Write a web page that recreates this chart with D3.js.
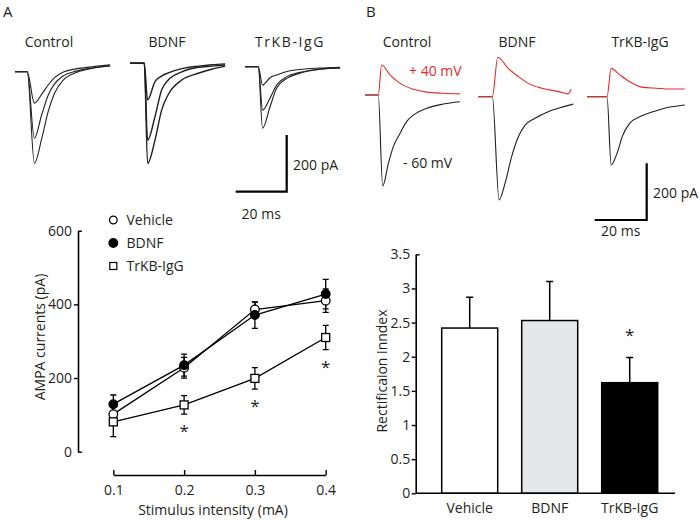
<!DOCTYPE html>
<html>
<head>
<meta charset="utf-8">
<script src="https://cdn.jsdelivr.net/npm/d3@7/dist/d3.min.js"></script>
<style>
  html, body { margin: 0; padding: 0; background: #fff; }
  svg { display: block; }
  text { font-family: "Open Sans", "Noto Sans", sans-serif; fill: #231f20; }
</style>
</head>
<body>
<svg id="fig" width="700" height="521"></svg>
<script>
// ---------------- DATA ----------------
// Panel A, example AMPA traces (time in ms, current in pA relative to baseline)
const aCtrlTime   = [0, 4.8, 7.6, 10.5, 13, 15.5, 19, 24, 31, 37.3];
const aCtrlSmall  = [0, 0, -111, -79, -47, -21, -1, 10, 18, 24];
const aCtrlMid    = [0, 0, -235, -151, -83, -43, -14, 2, 14, 21];
const aCtrlLarge  = [0, 0, -323, -235, -141, -76, -29, -3, 13, 20];

const aBdnfTime   = [0, 5.6, 6.9, 9.8, 12.4, 15, 20.3, 26.8, 32, 37.3];
const aBdnfSmall  = [0, 0, -129, -65, -45, -34, -19, -10, -5, -2];
const aBdnfMid    = [0, 0, -271, -188, -94, -59, -30, -14, -10, -6];
const aBdnfLarge  = [0, 0, -353, -271, -165, -110, -59, -35, -21, -10];

const aTrkbTime   = [0, 5.2, 6.9, 9.8, 12.4, 16.4, 21.6, 29.4, 37.3];
const aTrkbSmall  = [0, 0, -65, -39, -29, -17, -10, -5, -2];
const aTrkbMid    = [0, 0, -153, -111, -65, -35, -20, -8, -4];
const aTrkbLarge  = [0, 0, -217, -142, -76, -41, -23, -9, -4];

// Panel B, traces at +40 mV (red) and -60 mV (black)
const bCtrlRedTime   = [0, 5.1, 6.4, 9.6, 13.5, 18.6, 23.7, 30.1, 36.5];
const bCtrlRed       = [0, 0, 106, 71, 41, 20, 10, 6, 4];
const bCtrlBlackTime = [0, 5.1, 6.8, 9.0, 10.9, 13.5, 16.0, 18.6, 23.7, 30.1, 36.5];
const bCtrlBlack     = [0, 0, -321, -241, -182, -135, -94, -71, -47, -32, -24];

const bBdnfRedTime   = [0, 5.4, 7.5, 11.5, 15.4, 19.2, 24.4, 30.8, 34.6, 35.7];
const bBdnfRed       = [0, 0, 139, 100, 71, 47, 30, 18, 10, 26];
const bBdnfBlackTime = [0, 5.4, 8.0, 10.3, 12.8, 15.4, 18.0, 21.8, 26.9, 32.1, 36.5];
const bBdnfBlack     = [0, 0, -364, -305, -212, -141, -100, -76, -53, -37, -26];

const bTrkbRedTime   = [0, 7.7, 9.3, 12.6, 16.4, 21.5, 26.7, 31.8, 37.6];
const bTrkbRed       = [0, 0, 100, 77, 53, 33, 30, 27, 27];
const bTrkbBlackTime = [0, 7.7, 9.3, 11.3, 13.8, 16.4, 20.3, 25.4, 30.5, 37.6];
const bTrkbBlack     = [0, 0, -241, -206, -135, -94, -71, -53, -39, -29];

// Panel A, line chart
const stimulus      = [0.1, 0.2, 0.3, 0.4];
const vehicleMean   = [102, 228, 386, 410];
const vehicleErr    = [20, 28, 20, 32];
const bdncMean      = [129, 235, 371, 428];
const bdnfErr       = [25, 30, 36, 40];
const trkbMean      = [81, 127, 199, 310];
const trkbErr       = [40, 25, 29, 33];
const aYTicks       = [0, 200, 400, 600];
const sigStimulus   = [0.2, 0.3, 0.4];

// Panel B, bar chart
const groups        = ["Vehicle", "BDNF", "TrKB-IgG"];
const rectMean      = [2.42, 2.53, 1.62];
const rectErr       = [0.45, 0.57, 0.37];
const bYTicks       = [0, 0.5, 1, 1.5, 2, 2.5, 3, 3.5];
const sigGroups     = ["TrKB-IgG"];

// ---------------- DRAW ----------------
const svg = d3.select("#fig");
const RED = "#e42a2c";
const INK = "#231f20";

function txt(x, y, s, opts = {}) {
  const t = svg.append("text").attr("x", x).attr("y", y).text(s)
    .attr("font-size", opts.size || 14)
    .attr("text-anchor", opts.anchor || "start");
  if (opts.fill) t.style("fill", opts.fill);
  if (opts.ls) t.attr("letter-spacing", opts.ls);
  if (opts.weight) t.attr("font-weight", opts.weight);
  return t;
}

// Panel letters
txt(3, 17, "A", { size: 15 });
txt(366, 17, "B", { size: 15 });

// Trace helper
function traceScales(x0, baseY, pxPerMs) {
  return {
    x: d3.scaleLinear().domain([0, 20]).range([x0, x0 + 20 * pxPerMs]),
    y: d3.scaleLinear().domain([0, -200]).range([baseY, baseY + 56.7])
  };
}
function drawTrace(sc, times, vals, color, w) {
  const line = d3.line().x((d, i) => sc.x(times[i])).y(d => sc.y(d)).curve(d3.curveMonotoneX);
  svg.append("path").attr("d", line(vals)).attr("fill", "none")
    .attr("stroke", color).attr("stroke-width", w || 1.1).attr("stroke-linejoin", "round");
}

// --- Panel A traces ---
const sAc = traceScales(15, 71.7, 2.55);
[aCtrlSmall, aCtrlMid, aCtrlLarge].forEach(v => drawTrace(sAc, aCtrlTime, v, INK));
const sAb = traceScales(130, 63.3, 2.55);
[aBdnfSmall, aBdnfMid, aBdnfLarge].forEach(v => drawTrace(sAb, aBdnfTime, v, INK, 1.4));
const sAt = traceScales(245, 66.7, 2.55);
[aTrkbSmall, aTrkbMid, aTrkbLarge].forEach(v => drawTrace(sAt, aTrkbTime, v, INK));

txt(49, 47, "Control", { anchor: "middle" });
txt(167, 47, "BDNF", { anchor: "middle" });
txt(290, 47, "TrKB-IgG", { anchor: "middle", ls: 1.6 });

// Scale bar
function scaleBar(sc, xRight, yBottom, pALabelX, pALabelY, msLabelY) {
  const w = sc.x(20) - sc.x(0), h = sc.y(-200) - sc.y(0);
  svg.append("path")
    .attr("d", `M${xRight - w},${yBottom}H${xRight}V${yBottom - h}`)
    .attr("fill", "none").attr("stroke", "#000").attr("stroke-width", 2.2);
  txt(pALabelX, pALabelY, "200 pA");
  txt(xRight - w / 2, msLabelY, "20 ms", { anchor: "middle" });
}
scaleBar(sAc, 286.7, 191.7, 293, 170, 219);

// --- Panel B traces ---
const sBc = traceScales(365, 95, 2.6);
drawTrace(sBc, bCtrlBlackTime, bCtrlBlack, INK);
drawTrace(sBc, bCtrlRedTime, bCtrlRed, RED);
const sBb = traceScales(478.3, 96.7, 2.6);
drawTrace(sBb, bBdnfBlackTime, bBdnfBlack, INK);
drawTrace(sBb, bBdnfRedTime, bBdnfRed, RED);
const sBt = traceScales(587, 96.7, 2.6);
drawTrace(sBt, bTrkbBlackTime, bTrkbBlack, INK);
drawTrace(sBt, bTrkbRedTime, bTrkbRed, RED);

txt(407, 47, "Control", { anchor: "middle" });
txt(517, 47, "BDNF", { anchor: "middle" });
txt(640, 47, "TrKB-IgG", { anchor: "middle" });
txt(409, 76, "+ 40 mV", { fill: RED });
txt(403, 168, "- 60 mV");
scaleBar(sBc, 646.7, 220, 653, 198, 236);

// --- Panel A line chart ---
const xA = d3.scaleLinear().domain([0.1, 0.4]).range([113.3, 325.7]);
const yA = d3.scaleLinear().domain([0, 600]).range([451.7, 230.7]);

const gAy = svg.append("g").attr("transform", "translate(78,0)")
  .call(d3.axisLeft(yA).tickValues(aYTicks).tickSizeInner(4).tickSizeOuter(0).tickPadding(2));
const gAx = svg.append("g").attr("transform", "translate(0,475)")
  .call(d3.axisBottom(xA).tickValues(stimulus).tickFormat(d3.format(".1f")).tickSizeInner(-5).tickSizeOuter(0).tickPadding(10));

function styleAxis(g) {
  g.select(".domain").attr("stroke", "#000").attr("stroke-width", 1.6);
  g.selectAll(".tick line").attr("stroke", "#000").attr("stroke-width", 1.4);
  g.selectAll(".tick text").attr("font-size", 14).attr("font-family", "Open Sans").style("fill", INK);
}
styleAxis(gAy); styleAxis(gAx);
// end ticks of y axis point inward
gAy.selectAll(".tick").filter(d => d === 0 || d === 600).select("line").attr("x2", 4);

svg.append("text").attr("transform", "translate(45,337) rotate(-90)")
  .attr("text-anchor", "middle").attr("font-size", 14).text("AMPA currents (pA)");
txt(213, 515, "Stimulus intensity (mA)", { anchor: "middle" });

const seriesA = [
  { name: "Vehicle",  mean: vehicleMean, err: vehicleErr, shape: "circle", fill: "#fff" },
  { name: "BDNF",     mean: bdncMean,    err: bdnfErr,    shape: "circle", fill: "#000" },
  { name: "TrKB-IgG", mean: trkbMean,    err: trkbErr,    shape: "square", fill: "#fff" }
];
const lineA = d3.line().x((d, i) => xA(stimulus[i])).y(d => yA(d));
seriesA.forEach(s => {
  svg.append("path").attr("d", lineA(s.mean)).attr("fill", "none")
    .attr("stroke", "#000").attr("stroke-width", 1.3);
});
seriesA.forEach(s => {
  s.mean.forEach((m, i) => {
    const x = xA(stimulus[i]), y1 = yA(m - s.err[i]), y2 = yA(m + s.err[i]);
    svg.append("path").attr("d", `M${x},${y1}V${y2}M${x - 3},${y1}H${x + 3}M${x - 3},${y2}H${x + 3}`)
      .attr("stroke", "#000").attr("stroke-width", 1.3).attr("fill", "none");
  });
});
function marker(shape, x, y, fill) {
  if (shape === "circle") {
    svg.append("circle").attr("cx", x).attr("cy", y).attr("r", 4.3)
      .attr("fill", fill).attr("stroke", "#000").attr("stroke-width", 1.3);
  } else {
    svg.append("rect").attr("x", x - 4).attr("y", y - 4).attr("width", 8).attr("height", 8)
      .attr("fill", fill).attr("stroke", "#000").attr("stroke-width", 1.3);
  }
}
seriesA.forEach(s => s.mean.forEach((m, i) => marker(s.shape, xA(stimulus[i]), yA(m), s.fill)));

// significance asterisks under TrKB-IgG
sigStimulus.forEach(v => {
  const i = stimulus.indexOf(v);
  const yy = yA(trkbMean[i] - trkbErr[i]) + 23;
  txt(xA(v), yy, "*", { anchor: "middle", size: 17 });
});

// Legend
seriesA.forEach((s, i) => {
  const y = 220 + i * 23;
  if (s.shape === "circle") {
    svg.append("circle").attr("cx", 113.3).attr("cy", y).attr("r", s.fill === "#000" ? 4.3 : 3.8)
      .attr("fill", s.fill).attr("stroke", "#000").attr("stroke-width", 1.3);
  } else {
    svg.append("rect").attr("x", 109.8).attr("y", y - 3.5).attr("width", 7).attr("height", 7)
      .attr("fill", s.fill).attr("stroke", "#000").attr("stroke-width", 1.2);
  }
  txt(126.5, y + 5, s.name);
});

// --- Panel B bar chart ---
const xB = d3.scaleBand().domain(groups).range([429.7, 669.7]).paddingInner(0.3).paddingOuter(0.15);
const yB = d3.scaleLinear().domain([0, 3.5]).range([493.3, 254.3]);
const barFill = { "Vehicle": "#ffffff", "BDNF": "#e6e7e8", "TrKB-IgG": "#000000" };

groups.forEach((g, i) => {
  const x = xB(g) + xB.bandwidth() / 2;
  const top = yB(rectMean[i] + rectErr[i]);
  svg.append("path").attr("d", `M${x},${yB(rectMean[i])}V${top}M${x - 3.5},${top}H${x + 3.5}`)
    .attr("stroke", "#000").attr("stroke-width", 1.5).attr("fill", "none");
});
groups.forEach((g, i) => {
  svg.append("rect").attr("x", xB(g)).attr("y", yB(rectMean[i]))
    .attr("width", xB.bandwidth()).attr("height", yB(0) - yB(rectMean[i]))
    .attr("fill", barFill[g]).attr("stroke", "#000").attr("stroke-width", 1.5);
});
const gBy = svg.append("g").attr("transform", "translate(415.7,0)")
  .call(d3.axisLeft(yB).tickValues(bYTicks).tickFormat(d => String(d)).tickSizeInner(4).tickSizeOuter(0).tickPadding(1.5));
styleAxis(gBy);
gBy.selectAll(".tick").filter(d => d === 3.5).select("line").attr("x2", 4);
svg.append("line").attr("x1", 415.7).attr("x2", 675).attr("y1", 493.3).attr("y2", 493.3)
  .attr("stroke", "#000").attr("stroke-width", 1.6);
groups.forEach(g => txt(xB(g) + xB.bandwidth() / 2, 513, g, { anchor: "middle" }));
sigGroups.forEach(g => {
  const i = groups.indexOf(g);
  txt(xB(g) + xB.bandwidth() / 2, yB(rectMean[i] + rectErr[i]) - 16, "*", { anchor: "middle", size: 17 });
});
svg.append("text").attr("transform", "translate(386.5,371) rotate(-90)")
  .attr("text-anchor", "middle").attr("font-size", 14).text("Rectificaion inndex");
</script>
</body>
</html>
